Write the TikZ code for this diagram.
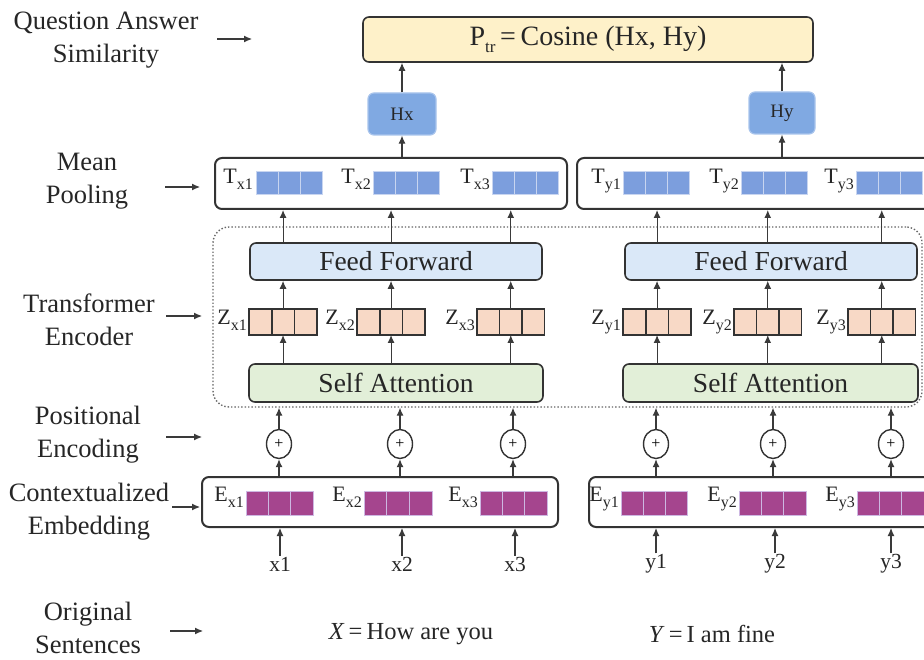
\documentclass[tikz,border=0pt]{standalone}
\usepackage{fontspec}
\setmainfont{Liberation Serif}
\usetikzlibrary{arrows.meta,shapes.geometric}

\definecolor{edge}{HTML}{333333}
\definecolor{arrowgray}{HTML}{3A3A3A}
\definecolor{simfill}{HTML}{FEF1C9}
\definecolor{hfill}{HTML}{80A9E2}
\definecolor{hedge}{HTML}{A8C4EC}
\definecolor{tsqfill}{HTML}{7C9EDD}
\definecolor{tsqedge}{HTML}{C8D5F0}
\definecolor{zsqfill}{HTML}{F8D9C6}
\definecolor{ffill}{HTML}{DAE8F8}
\definecolor{safill}{HTML}{E2EFD8}
\definecolor{esqfill}{HTML}{A5458E}
\definecolor{esqedge}{HTML}{CDB8E2}

% symbol with a lowered subscript
\newcommand{\symsub}[2]{#1\raisebox{-6pt}{\fontsize{16}{16}\selectfont #2}}
% three adjacent squares: name, left x, centre y, width, height, style
\newcommand{\sqrow}[6]{%
  \foreach \k in {1,2,3} {
    \node[#6, minimum width=#4, minimum height=#5] (#1-\k) at ({#2+(\k-0.5)*#4}, #3) {};
  }}

\begin{document}
\begin{tikzpicture}[x=1pt,y=-1pt,
  arr/.style={draw=arrowgray, line width=1.1pt, -{Latex[length=8pt,width=7pt]}},
  sidelabel/.style={font=\fontsize{26.5}{33}\selectfont, align=center, text=black!85},
  panel/.style={draw=edge, line width=2pt, rounded corners=7pt, fill=white, inner sep=0pt},
  layerbox/.style={draw=edge, line width=1.6pt, rounded corners=6pt, inner sep=0pt, font=\fontsize{27.5}{27.5}\selectfont, text=black!85},
  hbox/.style={draw=hedge, fill=hfill, line width=1.2pt, rounded corners=6pt, inner sep=0pt, font=\fontsize{19}{19}\selectfont, text=black!85},
  tsq/.style={fill=tsqfill, draw=tsqedge, line width=0.8pt, inner sep=0pt, outer sep=0pt},
  zsq/.style={fill=zsqfill, draw=edge, line width=1.6pt, inner sep=0pt, outer sep=0pt},
  esq/.style={fill=esqfill, draw=esqedge, line width=0.8pt, inner sep=0pt, outer sep=0pt},
  veclabel/.style={anchor=base east, inner sep=1pt, font=\fontsize{22}{22}\selectfont, text=black!85},
  plus/.style={ellipse, draw=edge, line width=1.4pt, minimum width=25pt, minimum height=29pt, inner sep=0pt, fill=white, font=\fontsize{16}{16}\selectfont},
  inlabel/.style={font=\fontsize{21.5}{21.5}\selectfont, inner sep=1pt, text=black!85},
]
\useasboundingbox (0,0) rectangle (924,660);
\clip (0,0) rectangle (924,660);

% ---- left-hand layer names ----
\node[sidelabel] (lqa) at (106,40) {Question Answer\\Similarity};
\node[sidelabel] (lmp) at (87,181) {Mean\\Pooling};
\node[sidelabel] (lte) at (89,320) {Transformer\\Encoder};
\node[sidelabel] (lpe) at (88,435) {Positional\\Encoding};
\node[sidelabel] (lce) at (89,512) {Contextualized\\Embedding};
\node[sidelabel] (los) at (88,628) {Original\\Sentences};

\coordinate (qa0) at (217,39);  \coordinate (qa1) at (252,39);
\coordinate (mp0) at (165,187); \coordinate (mp1) at (200,187);
\coordinate (te0) at (166,316); \coordinate (te1) at (202,316);
\coordinate (pe0) at (166,437); \coordinate (pe1) at (202,437);
\coordinate (ce0) at (172,507); \coordinate (ce1) at (200,507);
\coordinate (os0) at (170,631); \coordinate (os1) at (203,631);
\foreach \a in {qa,mp,te,pe,ce,os} \draw[arr] (\a0) -- (\a1);

% ---- similarity and sentence vectors ----
\node[layerbox, fill=simfill, minimum width=450pt, minimum height=45pt,
      font=\fontsize{28}{28}\selectfont] (sim) at (588,39.5)
  {P\raisebox{-7pt}{\fontsize{17}{17}\selectfont tr}\,=\,Cosine (Hx, Hy)};
\node[hbox, minimum width=68pt, minimum height=42pt] (hx) at (402,114) {Hx};
\node[hbox, minimum width=66pt, minimum height=42pt] (hy) at (782,113) {Hy};

% ---- mean pooling panels ----
\node[panel, minimum width=352pt, minimum height=51pt] (tpx) at (391,183.5) {};
\node[panel, minimum width=360pt, minimum height=51pt] (tpy) at (757,183.5) {};
\sqrow{tx1}{256}{182.5}{22}{23}{tsq}
\sqrow{tx2}{373}{182.5}{22}{23}{tsq}
\sqrow{tx3}{492}{182.5}{22}{23}{tsq}
\sqrow{ty1}{623}{182.5}{22}{23}{tsq}
\sqrow{ty2}{741}{182.5}{22}{23}{tsq}
\sqrow{ty3}{856}{182.5}{22}{23}{tsq}
\node[veclabel] (ltx1) at (254,184) {\symsub{T}{x1}};
\node[veclabel] (ltx2) at (372,184) {\symsub{T}{x2}};
\node[veclabel] (ltx3) at (491,184) {\symsub{T}{x3}};
\node[veclabel] (lty1) at (622,184) {\symsub{T}{y1}};
\node[veclabel] (lty2) at (740,184) {\symsub{T}{y2}};
\node[veclabel] (lty3) at (855,184) {\symsub{T}{y3}};

% ---- transformer encoder ----
\node[draw=black!60, dotted, line width=1.4pt, rounded corners=16pt, inner sep=0pt,
      minimum width=709pt, minimum height=180pt] (enc) at (567.5,317) {};
\node[layerbox, fill=ffill, minimum width=292pt, minimum height=37pt] (ffx) at (396,261.5) {Feed Forward};
\node[layerbox, fill=ffill, minimum width=292pt, minimum height=37pt] (ffy) at (771,261.5) {Feed Forward};
\node[layerbox, fill=safill, minimum width=294pt, minimum height=38pt] (sax) at (396,383) {Self Attention};
\node[layerbox, fill=safill, minimum width=295pt, minimum height=38pt] (say) at (770.5,383) {Self Attention};
\sqrow{zx1}{249}{322}{22.7}{26}{zsq}
\sqrow{zx2}{357}{322}{22.7}{26}{zsq}
\sqrow{zx3}{477}{322}{22.5}{26}{zsq}
\sqrow{zy1}{623}{322}{22.7}{26}{zsq}
\sqrow{zy2}{734}{322}{22.5}{26}{zsq}
\sqrow{zy3}{848}{322}{22.5}{26}{zsq}
\node[veclabel] (lzx1) at (248,325) {\symsub{Z}{x1}};
\node[veclabel] (lzx2) at (356,325) {\symsub{Z}{x2}};
\node[veclabel] (lzx3) at (476,325) {\symsub{Z}{x3}};
\node[veclabel] (lzy1) at (622,325) {\symsub{Z}{y1}};
\node[veclabel] (lzy2) at (733,325) {\symsub{Z}{y2}};
\node[veclabel] (lzy3) at (847,325) {\symsub{Z}{y3}};

% ---- positional encoding ----
\node[plus] (px1) at (279,444) {+};
\node[plus] (px2) at (400,444) {+};
\node[plus] (px3) at (513,444) {+};
\node[plus] (py1) at (656,444) {+};
\node[plus] (py2) at (773,444) {+};
\node[plus] (py3) at (891,444) {+};

% ---- contextualized embedding panels ----
\node[panel, minimum width=356pt, minimum height=50pt] (epx) at (380,502) {};
\node[panel, minimum width=356pt, minimum height=50pt] (epy) at (767,502) {};
\sqrow{ex1}{246}{503}{22.3}{24}{esq}
\sqrow{ex2}{364}{503}{22.7}{24}{esq}
\sqrow{ex3}{480}{503}{22.3}{24}{esq}
\sqrow{ey1}{621}{503}{22}{24}{esq}
\sqrow{ey2}{739}{503}{22.3}{24}{esq}
\sqrow{ey3}{857}{503}{22.3}{24}{esq}
\node[veclabel] (lex1) at (245,501) {\symsub{E}{x1}};
\node[veclabel] (lex2) at (363,501) {\symsub{E}{x2}};
\node[veclabel] (lex3) at (479,501) {\symsub{E}{x3}};
\node[veclabel] (ley1) at (620,501) {\symsub{E}{y1}};
\node[veclabel] (ley2) at (738,501) {\symsub{E}{y2}};
\node[veclabel] (ley3) at (856,501) {\symsub{E}{y3}};

% ---- tokens and sentences ----
\node[inlabel] (x1) at (280,564) {x1};
\node[inlabel] (x2) at (402,564) {x2};
\node[inlabel] (x3) at (515,564) {x3};
\node[inlabel] (y1) at (656,564) {y1};
\node[inlabel] (y2) at (775,564) {y2};
\node[inlabel] (y3) at (891,564) {y3};
\node[font=\fontsize{24.5}{24.5}\selectfont, text=black!85] (sx) at (411,634) {\textit{X}\,=\,How are you};
\node[font=\fontsize{24.5}{24.5}\selectfont, text=black!85] (sy) at (712,634) {\textit{Y}\,=\,I am fine};

% ---- connectors: tokens -> embeddings -> positional sums -> encoder ----
\foreach \t/\p/\e in {x1/px1/epx, x2/px2/epx, x3/px3/epx, y1/py1/epy, y2/py2/epy, y3/py3/epy} {
  \draw[arr] (\t.north) -- (\t.north |- \e.south);
  \draw[arr] (\p |- \e.north) -- (\p.south);
  \draw[arr] (\p.north) -- (\p |- enc.south);
}
% ---- inside the encoder and up to pooling ----
\foreach \z/\s/\f/\tp in {zx1/sax/ffx/tpx, zx2/sax/ffx/tpx, zx3/sax/ffx/tpx,
                          zy1/say/ffy/tpy, zy2/say/ffy/tpy, zy3/say/ffy/tpy} {
  \draw[arr] (\z-2 |- \s.north) -- (\z-2.south);
  \draw[arr] (\z-2.north) -- (\z-2 |- \f.south);
  \draw[arr] (\z-2 |- \f.north) -- (\z-2 |- \tp.south);
}
\draw[arr] (hx |- tpx.north) -- (hx.south);
\draw[arr] (hy |- tpy.north) -- (hy.south);
\draw[arr] (hx.north) -- (hx |- sim.south);
\draw[arr] (hy.north) -- (hy |- sim.south);
\end{tikzpicture}
\end{document}
